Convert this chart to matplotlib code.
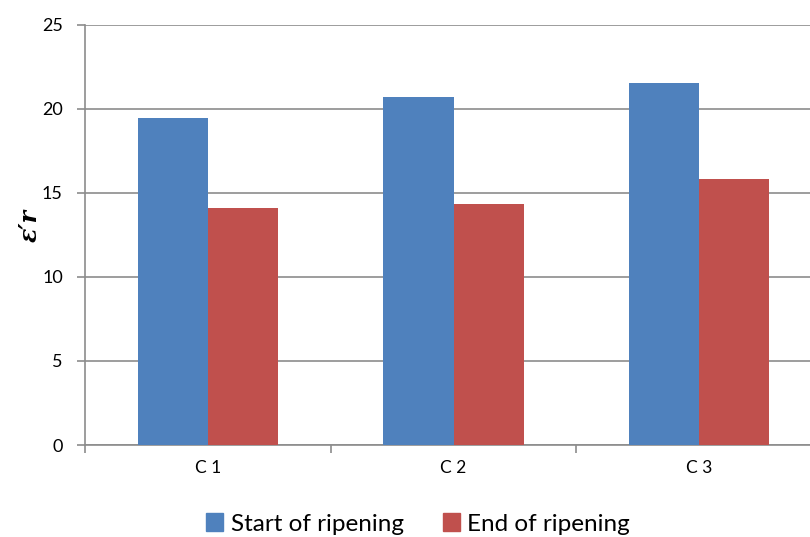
import matplotlib
matplotlib.use("Agg")
import matplotlib.pyplot as plt
from matplotlib.patches import Patch
import numpy as np

categories = ["C 1", "C 2", "C 3"]
start_vals = [19.45, 20.68, 21.5]
end_vals = [14.08, 14.33, 15.8]
series_names = ["Start of ripening", "End of ripening"]
yticks = [0, 5, 10, 15, 20, 25]

plt.rcParams['font.family'] = ['Lato', 'DejaVu Sans']

fig = plt.figure(figsize=(8.10, 5.37), dpi=100)
ax = fig.add_axes([85/810, 1-445/537, 737/810, 420.5/537])

x = np.arange(len(categories))
w = 0.285
blue = "#4F81BD"
red = "#C0504D"
ax.bar(x - w/2, start_vals, w, color=blue, zorder=3)
ax.bar(x + w/2, end_vals, w, color=red, zorder=3)

ax.set_xlim(-0.5, 2.5)
ax.set_ylim(0, 25)
ax.set_yticks(yticks)
ax.set_yticklabels([str(t) for t in yticks], fontsize=13)
ax.yaxis.grid(True, color="#8c8c8c", linewidth=1.2, zorder=0)
ax.set_axisbelow(True)

ax.set_xticks(x)
ax.set_xticklabels(categories, fontsize=12.5)
ax.set_xticks([-0.5, 0.5, 1.5, 2.5], minor=True)
ax.tick_params(axis='x', which='major', length=0, pad=11)
ax.tick_params(axis='x', which='minor', length=6, color="#8c8c8c", width=1.2)
ax.tick_params(axis='y', length=6, color="#8c8c8c", width=1.2, pad=10)

for s in ["top", "right"]:
    ax.spines[s].set_visible(False)
for s in ["left", "bottom"]:
    ax.spines[s].set_color("#8c8c8c")
    ax.spines[s].set_linewidth(1.2)

fig.text(30/810, 1-225/537, "ε′r", rotation=90, fontsize=17, fontweight='bold',
         fontstyle='italic', ha='center', va='center', family=['DejaVu Serif'])

handles = [Patch(color=blue), Patch(color=red)]
fig.legend(handles, series_names, loc='center', bbox_to_anchor=(418/810, 1-524/537),
           ncol=2, frameon=False, fontsize=17.5, handlelength=0.7, handleheight=0.7,
           handletextpad=0.3, columnspacing=1.6)

fig.savefig("out.png", dpi=100)
